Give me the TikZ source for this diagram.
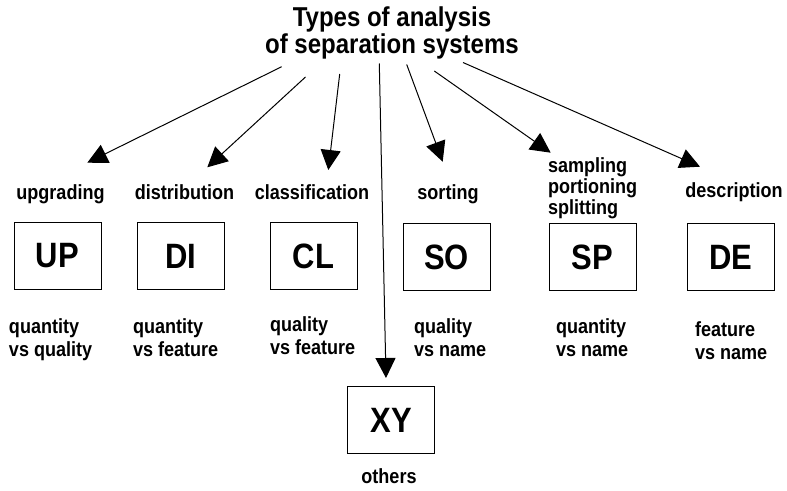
\documentclass[tikz,border=0pt]{standalone}
\usepackage{fontspec}
\setmainfont{Liberation Sans}[FakeStretch=0.88]
\usetikzlibrary{arrows.meta}
\begin{document}
\begin{tikzpicture}[x=1pt,y=-1pt,
  every node/.style={inner sep=0pt, outer sep=0pt},
  titlef/.style={font=\fontsize{27.3}{26.5}\selectfont\bfseries, align=center},
  lab/.style={font=\fontsize{20.5}{21}\selectfont\bfseries},
  desc/.style={font=\fontsize{20.5}{23}\selectfont\bfseries, align=left, anchor=base west},
  abox/.style={draw, line width=1pt, minimum width=87pt, minimum height=67pt,
               font=\fontsize{35.2}{36}\selectfont\bfseries},
  arr/.style={line width=1pt, -{Triangle[length=20pt,width=20pt]}}
]
\useasboundingbox (0,0) rectangle (787,490);

% title (base = baseline of last line)
\node[titlef, anchor=base] (title) at (392,53) {Types of analysis\\of separation systems};

% labels
\node[lab, anchor=base] (lUP) at (60.5,199) {upgrading};
\node[lab, anchor=base] (lDI) at (184.5,199) {distribution};
\node[lab, anchor=base] (lCL) at (312,199) {classification};
\node[lab, anchor=base] (lSO) at (448,199) {sorting};
\node[lab, anchor=base west, align=left] (lSP) at (548,214) {sampling\\portioning\\splitting};
\node[lab, anchor=base] (lDE) at (734,197) {description};

% boxes
\node[abox] (UP) at (57.5,255.5) {UP};
\node[abox] (DI) at (181,256) {DI};
\node[abox] (CL) at (313.5,256) {CL};
\node[abox] (SO) at (446.5,257) {SO};
\node[abox] (SP) at (592.5,257) {SP};
\node[abox] (DE) at (731,257) {DE};
\node[abox] (XY) at (391,420) {XY};

% descriptions (base = baseline of last line)
\node[desc] (dUP) at (9,356) {quantity\\vs quality};
\node[desc] (dDI) at (133,356) {quantity\\vs feature};
\node[desc] (dCL) at (270,354) {quality\\vs feature};
\node[desc] (dSO) at (414,356) {quality\\vs name};
\node[desc] (dSP) at (556,356) {quantity\\vs name};
\node[desc] (dDE) at (695,359) {feature\\vs name};
\node[lab, anchor=base] (others) at (389,483) {others};

% arrow end points
\coordinate (sUP) at (281.7,66.7);  \coordinate (tUP) at (87.3,162.7);
\coordinate (sDI) at (305.5,77);    \coordinate (tDI) at (207.3,167.3);
\coordinate (sCL) at (339.7,74);    \coordinate (tCL) at (328.3,170);
\coordinate (sXY) at (379.3,63.5);  \coordinate (tXY) at (386,378);
\coordinate (sSO) at (406.7,64.5);  \coordinate (tSO) at (442.7,161.7);
\coordinate (sSP) at (434.3,71);    \coordinate (tSP) at (550.7,152.7);
\coordinate (sDE) at (463,62.5);    \coordinate (tDE) at (700,166.7);

\draw[arr] (sUP) -- (tUP);
\draw[arr] (sDI) -- (tDI);
\draw[arr] (sCL) -- (tCL);
\draw[arr] (sXY) -- (tXY);
\draw[arr] (sSO) -- (tSO);
\draw[arr] (sSP) -- (tSP);
\draw[arr] (sDE) -- (tDE);
\end{tikzpicture}
\end{document}
